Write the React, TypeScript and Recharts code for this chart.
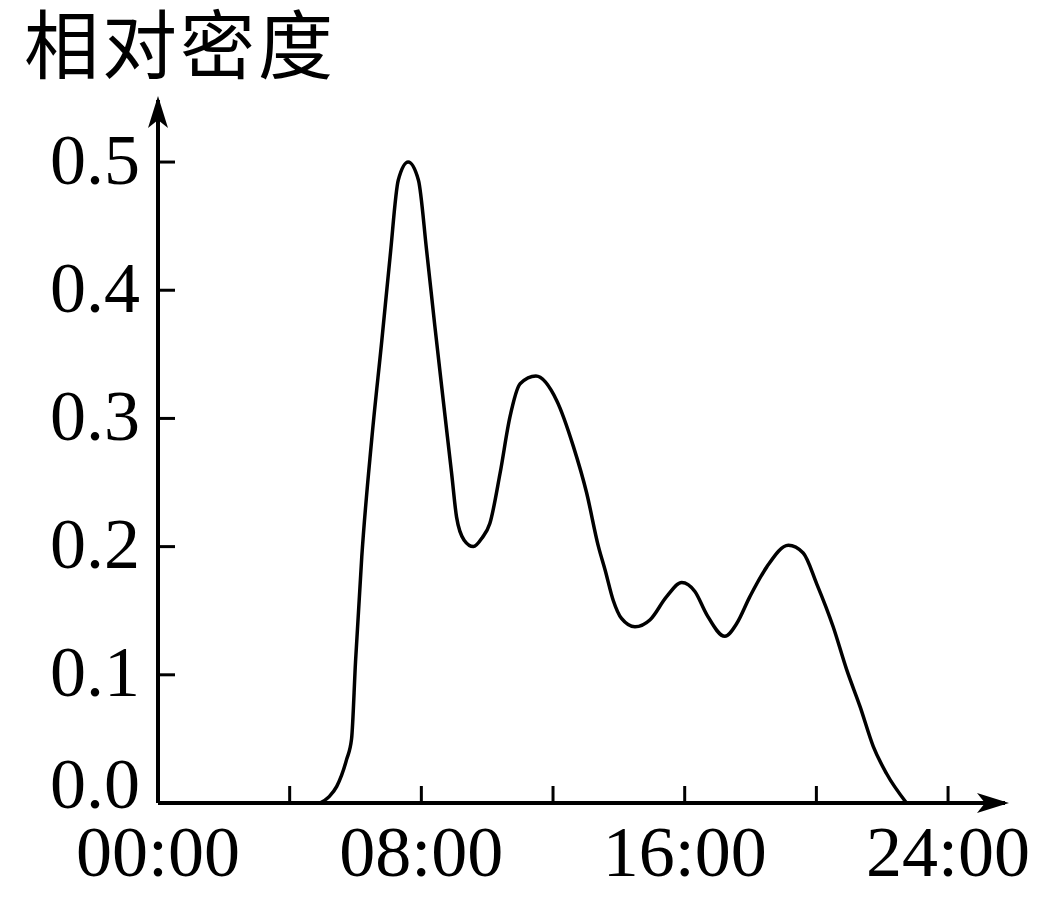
import React from 'react';
import { LineChart, Line, XAxis, YAxis } from 'recharts';

// hours of day vs. relative density
const hours = [
  4.92, 5.2, 5.43, 5.73, 5.88, 6.0, 6.19, 6.49, 6.8, 7.05, 7.3, 7.6, 7.91, 8.16,
  8.41, 8.67, 8.92, 9.07, 9.3, 9.58, 9.85, 10.08, 10.39, 10.69, 11.0, 11.48,
  12.11, 12.62, 13.02, 13.38, 13.58, 13.83, 14.08, 14.49, 14.95, 15.45, 15.91,
  16.31, 16.67, 17.22, 17.58, 17.98, 18.49, 19.15, 19.6, 20.01, 20.51, 20.92,
  21.33, 21.73, 22.13, 22.74,
];
const density = [
  0, 0.005, 0.013, 0.034, 0.05, 0.11, 0.192, 0.283, 0.361, 0.426, 0.486, 0.5,
  0.486, 0.431, 0.372, 0.313, 0.257, 0.223, 0.205, 0.2, 0.207, 0.218, 0.257,
  0.301, 0.327, 0.333, 0.314, 0.278, 0.242, 0.2, 0.182, 0.158, 0.144, 0.1375,
  0.143, 0.161, 0.172, 0.165, 0.147, 0.13, 0.14, 0.161, 0.184, 0.201, 0.195,
  0.171, 0.1375, 0.104, 0.075, 0.044, 0.023, 0,
];
const xTicks = [0, 4, 8, 12, 16, 20, 24];
const xLabelHours = [0, 8, 16, 24];
const yTicks = [0, 0.1, 0.2, 0.3, 0.4, 0.5];
const title = '相对密度';

const data = hours.map((h, i) => ({ h, v: density[i] }));

const FONT = '"Liberation Serif", "Times New Roman", serif';
const FONT_SIZE = 72;
const TICK_LEN = 17;
const Y_LABEL_GAP = 18;

const fmtHour = (h: number) => `${String(h).padStart(2, '0')}:00`;

const XTick = (props: any) => {
  const { x, y, payload } = props;
  const h = payload.value as number;
  return (
    <g>
      {h > 0 && (
        <line x1={x} x2={x} y1={y} y2={y - TICK_LEN} stroke="#000" strokeWidth={3} />
      )}
      {xLabelHours.includes(h) && (
        <text x={x} y={y} dy={FONT_SIZE + 1} textAnchor="middle" fontFamily={FONT} fontSize={FONT_SIZE} fill="#000">
          {fmtHour(h)}
        </text>
      )}
    </g>
  );
};

const YTick = (props: any) => {
  const { x, y, payload } = props;
  const v = payload.value as number;
  // the 0.0 label sits on the axis line instead of being centred on it
  const shift = v === 0 ? -19 : -3;
  return (
    <g>
      {v > 0 && (
        <line
          x1={x + Y_LABEL_GAP}
          x2={x + Y_LABEL_GAP + TICK_LEN}
          y1={y}
          y2={y}
          stroke="#000"
          strokeWidth={3}
        />
      )}
      <text x={x} y={y + shift} dy="0.34em" textAnchor="end" fontFamily={FONT} fontSize={FONT_SIZE} fill="#000">
        {v.toFixed(1)}
      </text>
    </g>
  );
};

export default function App() {
  return (
    <div style={{ position: 'absolute', left: 0, top: 0, width: 1050, height: 908, background: '#fff' }}>
      <div
        style={{
          position: 'absolute',
          left: 24,
          top: 0,
          fontFamily: '"Noto Sans CJK SC", sans-serif',
          fontSize: 75,
          lineHeight: '82px',
          letterSpacing: 3,
          color: '#000',
          whiteSpace: 'nowrap',
        }}
      >
        {title}
      </div>
      <LineChart
        width={1050}
        height={908}
        data={data}
        margin={{ top: 100, right: 45, bottom: 0, left: 0 }}
      >
        <defs>
          <marker
            id="arrowHead"
            markerUnits="userSpaceOnUse"
            markerWidth={32}
            markerHeight={20}
            refX={28}
            refY={10}
            orient="auto-start-reverse"
          >
            <path d="M0,0 L32,10 L0,20 L8,10 Z" fill="#000" />
          </marker>
        </defs>
        <XAxis
          dataKey="h"
          type="number"
          domain={[0, 25.73]}
          ticks={xTicks}
          allowDataOverflow
          interval={0}
          tickSize={0}
          tickMargin={0}
          tickLine={false}
          axisLine={{ stroke: '#000', strokeWidth: 4, markerEnd: 'url(#arrowHead)' }}
          tick={<XTick />}
          height={105}
        />
        <YAxis
          type="number"
          domain={[0, 0.5484]}
          ticks={yTicks}
          allowDataOverflow
          interval={0}
          width={158}
          tickSize={0}
          tickMargin={Y_LABEL_GAP}
          tickLine={false}
          axisLine={{ stroke: '#000', strokeWidth: 4, markerStart: 'url(#arrowHead)' }}
          tick={<YTick />}
        />
        <Line
          type="monotone"
          dataKey="v"
          stroke="#000"
          strokeWidth={3.5}
          dot={false}
          activeDot={false}
          isAnimationActive={false}
        />
      </LineChart>
    </div>
  );
}
